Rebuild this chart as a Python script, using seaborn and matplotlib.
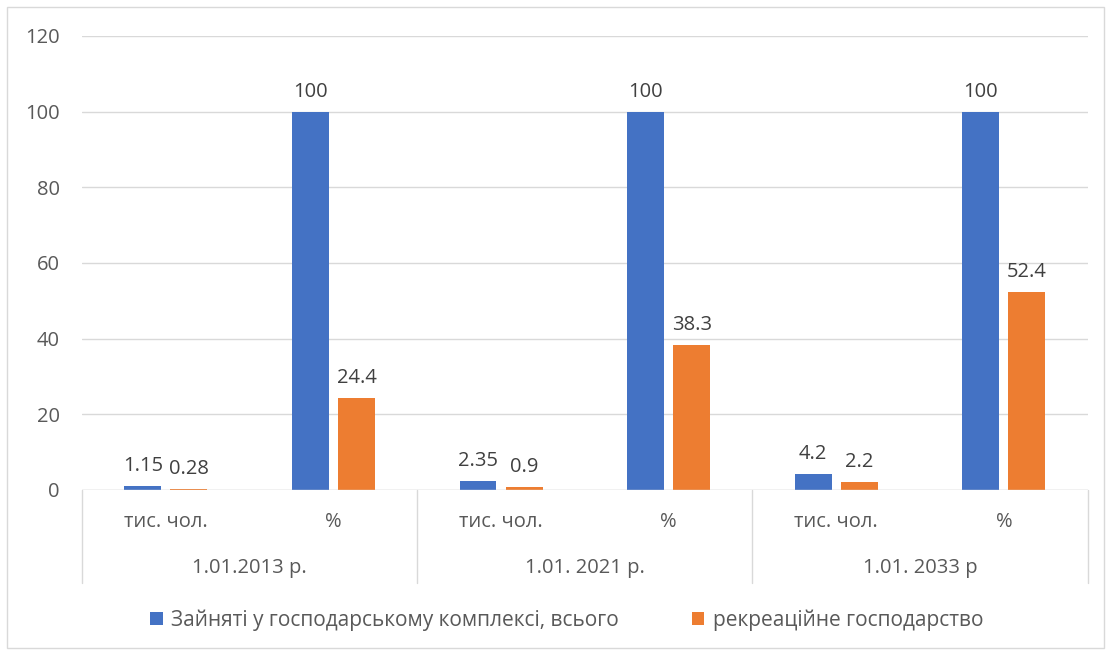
import pandas as pd
import matplotlib.pyplot as plt
import seaborn as sns
from matplotlib.patches import Rectangle
from matplotlib.transforms import blended_transform_factory

# chart data
dates = ["1.01.2013 р.", "1.01. 2021 р.", "1.01. 2033 р"]
units = ["тис. чол.", "%"]
series_names = ["Зайняті у господарському комплексі, всього", "рекреаційне господарство"]
total = [1.15, 100, 2.35, 100, 4.2, 100]
recreation = [0.28, 24.4, 0.9, 38.3, 2.2, 52.4]
total_labels = ["1.15", "100", "2.35", "100", "4.2", "100"]
recreation_labels = ["0.28", "24.4", "0.9", "38.3", "2.2", "52.4"]

cats = [f"{d}|{u}" for d in dates for u in units]
df = pd.DataFrame({
    "cat": cats * 2,
    "series": [series_names[0]] * 6 + [series_names[1]] * 6,
    "value": total + recreation,
})

sns.set_style("white")
plt.rcParams['font.family'] = ['Open Sans', 'DejaVu Sans']
text_col = "#595959"

fig = plt.figure(figsize=(11.11, 6.54), dpi=100)
ax = fig.add_axes([0.0738, 0.2508, 0.9052, 0.6942])

sns.barplot(data=df, x="cat", y="value", hue="series", order=cats,
            hue_order=series_names, palette=["#4472C4", "#ED7D31"],
            saturation=1, width=0.55, gap=0.2, edgecolor="none", ax=ax,
            legend=True)

for cont, labs in zip(ax.containers, [total_labels, recreation_labels]):
    ax.bar_label(cont, labels=labs, padding=7, fontsize=14.5, color="#404040")

ax.set_ylim(0, 120)
ax.set_yticks(range(0, 121, 20))
ax.set_xlim(-0.5, 5.5)
ax.grid(axis="y", color="#D9D9D9", linewidth=1)
ax.set_axisbelow(True)
for s in ax.spines.values():
    s.set_visible(False)
ax.tick_params(axis="y", labelsize=14.5, labelcolor=text_col, length=0, pad=16)
ax.set_xticks([])
ax.set_xlabel("")
ax.set_ylabel("")

# multi-level category axis
trans = blended_transform_factory(ax.transData, ax.transAxes)
ax.axhline(0, color="#D9D9D9", linewidth=1)
for xs in [-0.5, 1.5, 3.5, 5.5]:
    ax.plot([xs, xs], [0, -0.205], transform=trans, color="#D9D9D9",
            linewidth=1, clip_on=False)
for i, c in enumerate(cats):
    d, u = c.split("|")
    ax.text(i, -0.07, u, transform=trans, ha="center", va="center",
            fontsize=14.5, color=text_col)
for j, d in enumerate(dates):
    ax.text(2 * j + 0.5, -0.172, d, transform=trans, ha="center", va="center",
            fontsize=14.5, color=text_col)

handles, labels = ax.get_legend_handles_labels()
ax.get_legend().remove()
fig.legend(handles, labels, loc="center", bbox_to_anchor=(0.51, 0.052), ncol=2,
           frameon=False, fontsize=15, handlelength=0.6, handleheight=0.6,
           columnspacing=3.5, handletextpad=0.4, labelcolor=text_col)

fig.patches.append(Rectangle((7 / 1111, 6 / 654), 1097 / 1111, 641 / 654,
                             transform=fig.transFigure, fill=False,
                             edgecolor="#D9D9D9", linewidth=1))

fig.savefig("out.png", dpi=100)
